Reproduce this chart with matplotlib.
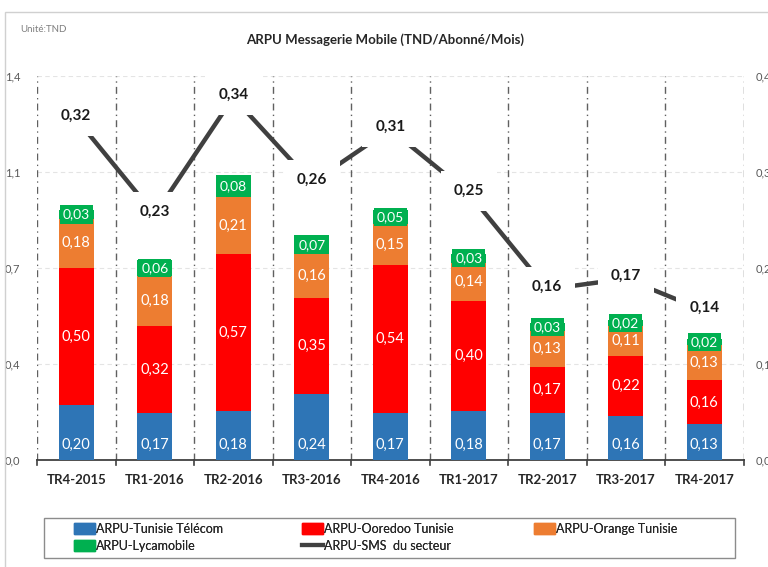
import matplotlib
matplotlib.use("Agg")
import matplotlib.pyplot as plt
from matplotlib.patches import Patch, Rectangle
from matplotlib.lines import Line2D
import numpy as np

categories = ["TR4-2015", "TR1-2016", "TR2-2016", "TR3-2016", "TR4-2016",
              "TR1-2017", "TR2-2017", "TR3-2017", "TR4-2017"]
tunisie_telecom = [0.20, 0.17, 0.18, 0.24, 0.17, 0.18, 0.17, 0.16, 0.13]
ooredoo = [0.50, 0.32, 0.57, 0.35, 0.54, 0.40, 0.17, 0.22, 0.16]
orange = [0.18, 0.18, 0.21, 0.16, 0.15, 0.14, 0.13, 0.11, 0.13]
lycamobile = [0.03, 0.06, 0.08, 0.07, 0.05, 0.03, 0.03, 0.02, 0.02]
sms_secteur = [0.32, 0.23, 0.34, 0.26, 0.31, 0.25, 0.16, 0.17, 0.14]

left_ticks = [0.0, 0.35, 0.70, 1.05, 1.40]
left_labels = ["0,0", "0,4", "0,7", "1,1", "1,4"]
right_ticks = [0.0, 0.09, 0.18, 0.27, 0.36]
right_labels = ["0,0", "0,1", "0,2", "0,3", "0,4"]

series_names = ["ARPU-Tunisie Télécom", "ARPU-Ooredoo Tunisie",
                "ARPU-Orange Tunisie", "ARPU-Lycamobile", "ARPU-SMS  du secteur"]
colors = ["#2E75B6", "#FF0000", "#ED7D31", "#00B050"]
line_color = "#404040"

plt.rcParams['font.family'] = ['Lato', 'DejaVu Sans']

fig = plt.figure(figsize=(7.68, 5.67), dpi=100)
W, H = 768, 567
ax = fig.add_axes([37 / W, 1 - 460 / H, (743.5 - 37) / W, (460 - 76) / H])

x = np.arange(len(categories))
bw = 0.45
stacks = [tunisie_telecom, ooredoo, orange, lycamobile]
bottom = np.zeros(len(categories))
for k, (vals, col) in enumerate(zip(stacks, colors)):
    vals = np.array(vals)
    ax.bar(x, vals, bw, bottom=bottom, color=col, zorder=3)
    for xi, b, v in zip(x, bottom, vals):
        txt = f"{v:.2f}".replace('.', ',')
        if k == 3:
            ax.text(xi, b + v / 2, txt, ha='center', va='center', color='white',
                    fontsize=10, zorder=5,
                    bbox=dict(boxstyle='square,pad=0.22', fc=col, ec='none'))
        elif k == 0:
            ax.annotate(txt, (xi, b), xytext=(0, 11), textcoords='offset points',
                        ha='center', va='center', color='white', fontsize=10.5,
                        zorder=5)
        else:
            ax.text(xi, b + v / 2, txt, ha='center', va='center', color='white',
                    fontsize=10.5, zorder=5)
    bottom = bottom + vals

ax.set_xlim(-0.5, len(categories) - 0.5)
ax.set_ylim(0, 1.4)
ax.set_yticks(left_ticks)
ax.set_yticklabels(left_labels, color='#595959', fontsize=8)
ax.tick_params(axis='y', length=0, pad=12)
ax.set_xticks(x)
ax.set_xticklabels(categories, fontsize=9.5, fontweight='bold', color='#262626')
ax.tick_params(axis='x', length=0, pad=10)
for s in ['top', 'left', 'right']:
    ax.spines[s].set_visible(False)
ax.spines['bottom'].set_color('#404040')
ax.spines['bottom'].set_linewidth(1.3)
for t in left_ticks[1:]:
    ax.axhline(t, color='#e4e4e4', lw=0.8, ls=(0, (4, 3)), zorder=1)
for b in np.arange(-0.5, len(categories), 1.0):
    ax.axvline(b, color='#606060', lw=1.0, ls=(0, (5, 3, 1, 3)), zorder=2)
    ax.plot([b, b], [0, -0.018], color='#404040', lw=1.2, clip_on=False)

ax2 = ax.twinx()
ax2.set_ylim(0, 0.36)
ax2.set_yticks(right_ticks)
ax2.set_yticklabels(right_labels, color='#595959', fontsize=8)
ax2.tick_params(axis='y', length=0, pad=9)
for s in ['top', 'left', 'right', 'bottom']:
    ax2.spines[s].set_visible(False)
ax2.plot(x, sms_secteur, color=line_color, lw=3.2, zorder=4, solid_capstyle='butt')
for xi, v in zip(x, sms_secteur):
    ax2.annotate(f"{v:.2f}".replace('.', ','), (xi, v), xytext=(0, 2),
                 textcoords='offset points', ha='center', va='center',
                 fontsize=11, fontweight='bold', color='#1a1a1a', zorder=6,
                 bbox=dict(boxstyle='square,pad=0.85', fc='white', ec='none'))

fig.text(385 / W, 1 - 40 / H, "ARPU Messagerie Mobile (TND/Abonné/Mois)",
         ha='center', va='center', fontsize=9.5, fontweight='bold', color='#262626')
fig.text(20 / W, 1 - 30 / H, "Unité:TND", ha='left', va='center',
         fontsize=7, color='#7f7f7f')

fig.patches.append(Rectangle((5 / W, -0.05), 1.2, 1 - 12 / H + 0.05,
                             transform=fig.transFigure, fill=False,
                             ec='#d0d0d0', lw=1.0))
# legend frame
fig.patches.append(Rectangle((44 / W, 1 - 558 / H), (735 - 44) / W, 40 / H,
                             transform=fig.transFigure, fill=False,
                             ec='#8c8c8c', lw=1.0))

h_tt = Patch(color=colors[0])
h_oo = Patch(color=colors[1])
h_or = Patch(color=colors[2])
h_ly = Patch(color=colors[3])
h_sms = Line2D([], [], color=line_color, lw=3)
columns = [([h_tt, h_ly], [series_names[0], series_names[3]], 74),
           ([h_oo, h_sms], [series_names[1], series_names[4]], 302),
           ([h_or], [series_names[2]], 534)]
for hs, ls, xpos in columns:
    leg = fig.legend(hs, ls, loc='upper left',
                     bbox_to_anchor=(xpos / W, 1 - 523 / H),
                     fontsize=9, frameon=False, handlelength=1.7,
                     handleheight=1.0, handletextpad=0.05, labelspacing=0.4,
                     borderpad=0, borderaxespad=0)
    for t in leg.get_texts():
        t.set_color('#262626')
    fig.add_artist(leg)

fig.savefig("out.png", dpi=100)
